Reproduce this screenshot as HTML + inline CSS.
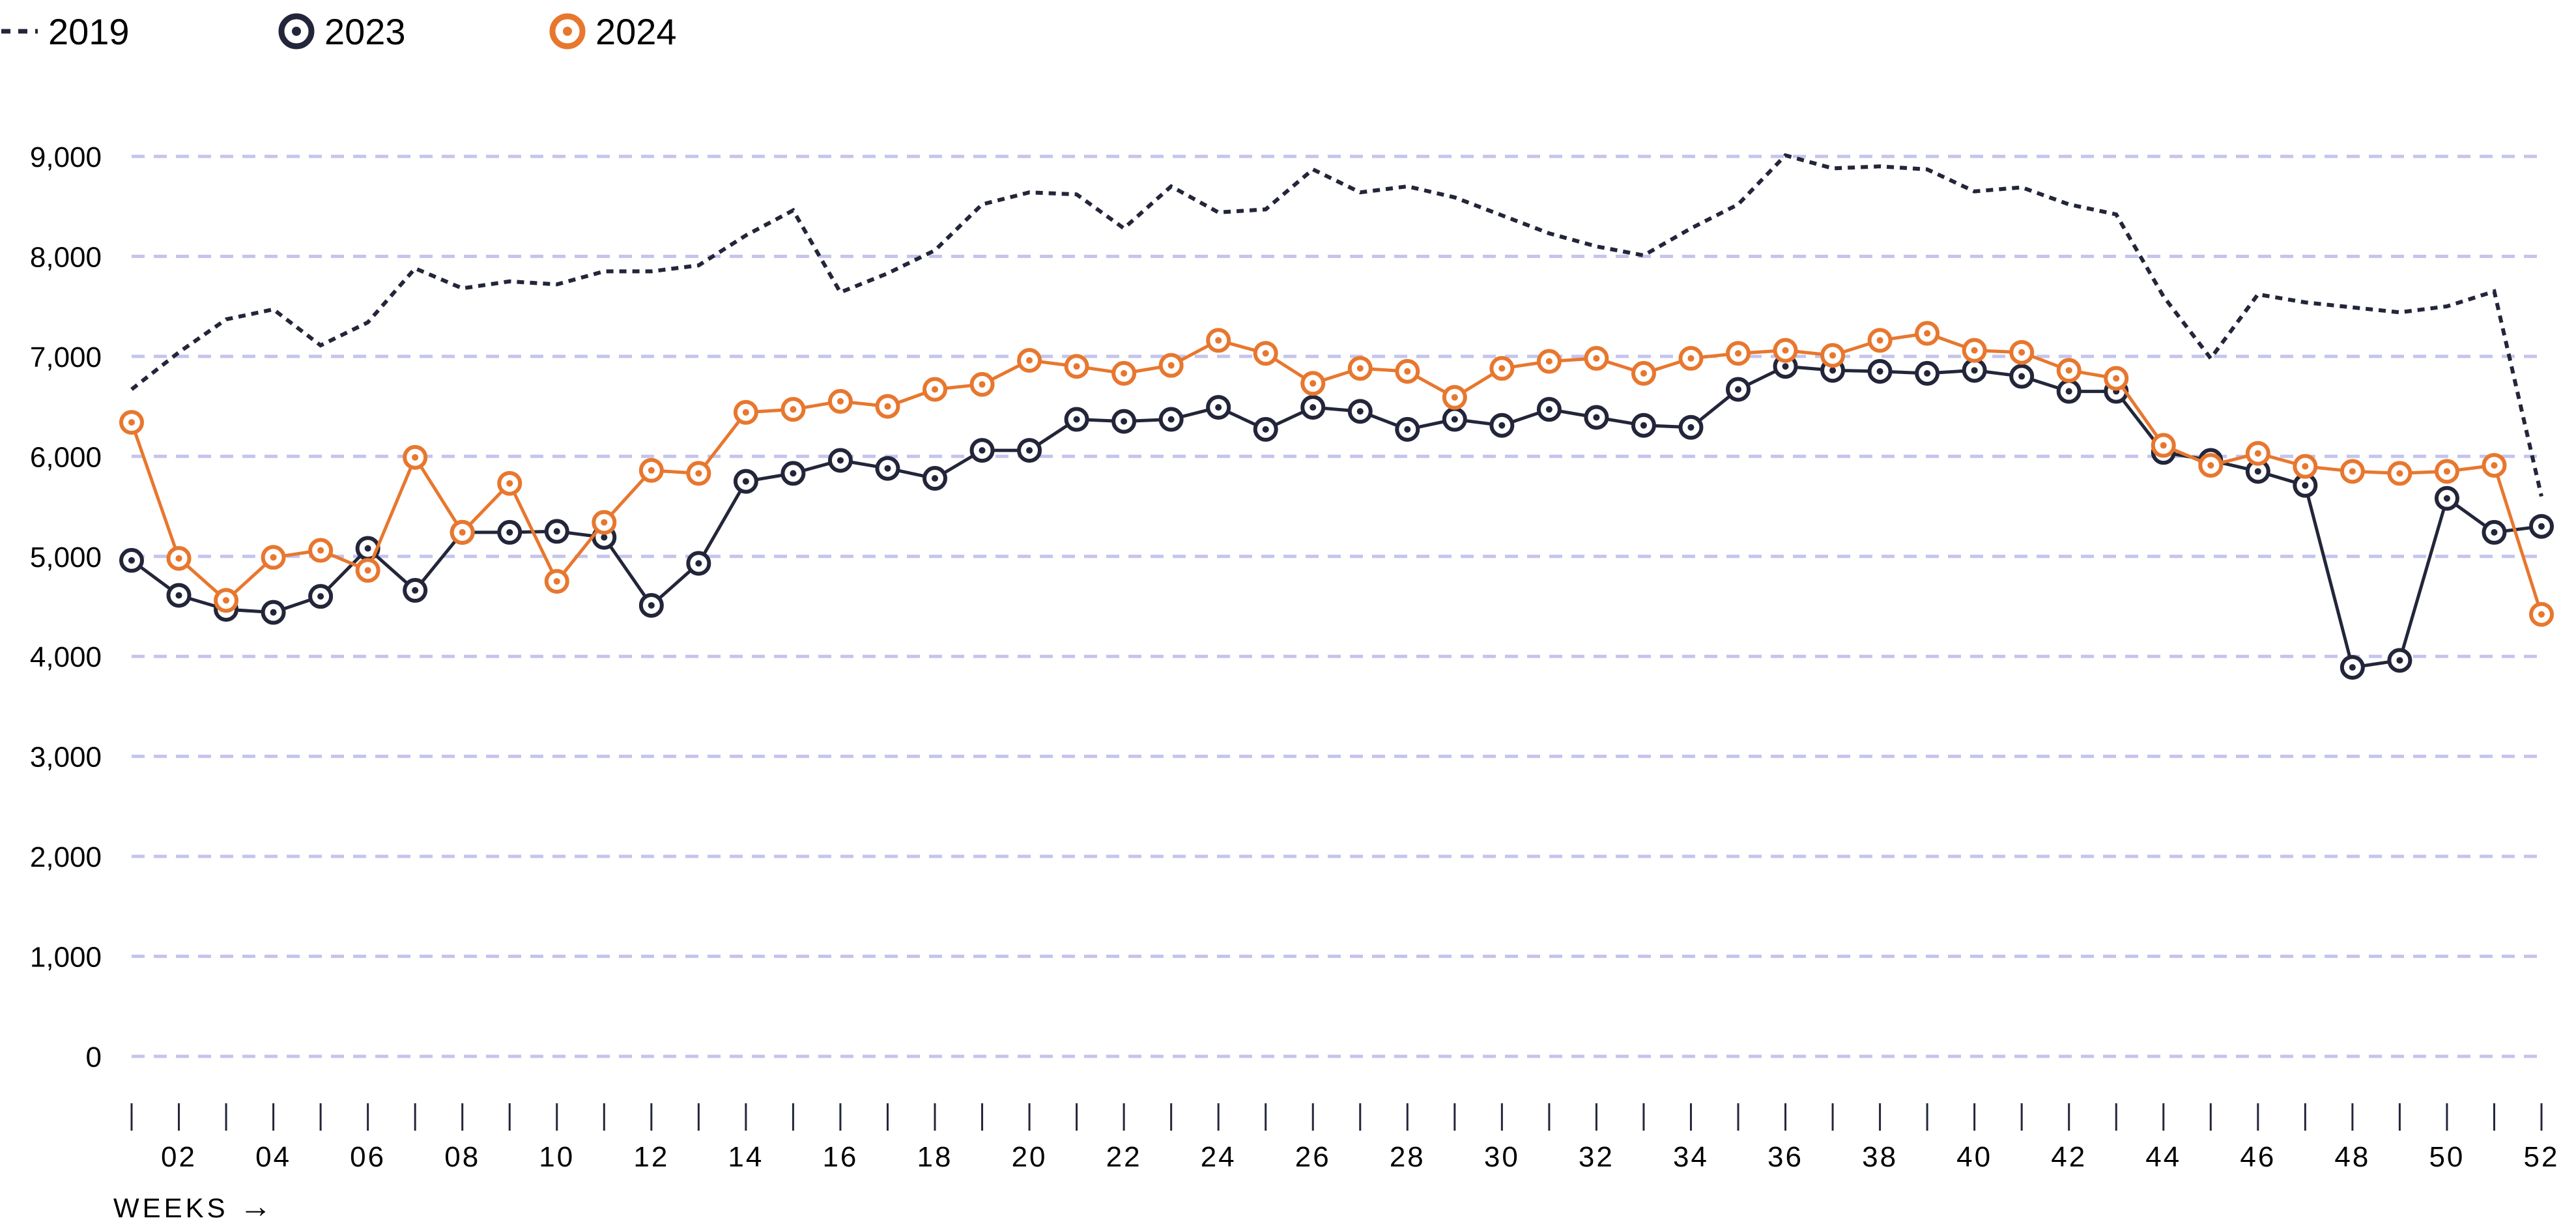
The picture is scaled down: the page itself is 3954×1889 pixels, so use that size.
<!DOCTYPE html>
<html><head><meta charset="utf-8"><style>
html,body{margin:0;padding:0;background:#fff;}
svg{display:block;font-family:"Liberation Sans",sans-serif;}
</style></head><body>
<svg id="chart" width="3954" height="1889" viewBox="0 0 3954 1889" xmlns="http://www.w3.org/2000/svg">
<g>
  <g>
    <line x1="2" y1="48" x2="58" y2="48" stroke="#23263a" stroke-width="7" stroke-dasharray="14,12"/>
    <text x="74" y="68" font-size="56" fill="#000">2019</text>
  </g>
  <g>
    <circle cx="455" cy="48" r="23" fill="#fff" stroke="#23263a" stroke-width="9"/>
    <circle cx="455" cy="48" r="7" fill="#23263a"/>
    <text x="498" y="68" font-size="56" fill="#000">2023</text>
  </g>
  <g>
    <circle cx="871" cy="48" r="23" fill="#fff" stroke="#e8772e" stroke-width="9"/>
    <circle cx="871" cy="48" r="7" fill="#e8772e"/>
    <text x="914" y="68" font-size="56" fill="#000">2024</text>
  </g>
</g>
<g id="grid"></g>
<g id="yaxis"></g>
<g id="xaxis"></g>
<g id="series"></g>
<text x="174" y="1868" font-size="42" letter-spacing="5" fill="#000">WEEKS <tspan font-size="50">→</tspan></text>
</svg>
<script>
const weeks = Array.from({length:52},(_,i)=>i+1);
const yTicks = [0,1000,2000,3000,4000,5000,6000,7000,8000,9000];
const s2019 = [6670,7040,7370,7470,7110,7340,7880,7680,7750,7720,7850,7850,7910,8210,8460,7640,7830,8060,8520,8640,8620,8280,8700,8440,8470,8870,8640,8700,8590,8410,8230,8100,8010,8280,8520,9010,8880,8900,8870,8650,8690,8520,8420,7600,6980,7620,7540,7490,7440,7500,7650,5600];
const s2023 = [4960,4610,4470,4440,4600,5080,4660,5240,5240,5250,5190,4510,4930,5750,5830,5960,5880,5780,6060,6060,6370,6350,6370,6490,6270,6490,6450,6270,6370,6310,6470,6390,6310,6290,6670,6900,6860,6850,6830,6860,6800,6650,6650,6040,5960,5850,5710,3890,3960,5580,5240,5300];
const s2024 = [6340,4980,4560,4990,5060,4860,5990,5240,5730,4750,5340,5860,5830,6440,6470,6550,6500,6670,6720,6960,6900,6830,6910,7160,7030,6730,6880,6850,6590,6880,6950,6980,6830,6980,7030,7060,7010,7160,7230,7060,7040,6860,6780,6110,5910,6030,5900,5850,5830,5850,5910,4420];

const NS="http://www.w3.org/2000/svg";
const X0=202, X1=3901, Y0=1621, YPER=153.45/1000;
const xs = w => X0 + (w-1)*(X1-X0)/51;
const ys = v => Y0 - v*YPER;
function mk(tag, attrs, parent){const e=document.createElementNS(NS,tag);for(const k in attrs)e.setAttribute(k,attrs[k]);parent.appendChild(e);return e;}
const grid=document.getElementById('grid'), ya=document.getElementById('yaxis'), xa=document.getElementById('xaxis'), ser=document.getElementById('series');
yTicks.forEach(v=>{
  const l=mk('line',{x1:X0,x2:3905,y1:ys(v),y2:ys(v),stroke:'#c4c4ee','stroke-width':5,'stroke-dasharray':'20,14'},grid);
  
  
  const t=mk('text',{x:156,y:ys(v)+16,'font-size':44,'text-anchor':'end',fill:'#000'},ya);
  t.textContent=v.toLocaleString('en-US');
  
  
});
weeks.forEach(w=>{
  const l=mk('line',{x1:xs(w),x2:xs(w),y1:1693,y2:1735,stroke:'#23263a','stroke-width':3},xa);
  
  
  if(w%2===0){
    const t=mk('text',{x:xs(w),y:1790,'font-size':44,'text-anchor':'middle',fill:'#000','letter-spacing':3},xa);
    t.textContent=String(w).padStart(2,'0');
    
    
  }
});
function path(arr){return arr.map((v,i)=>(i?'L':'M')+xs(weeks[i]).toFixed(1)+','+ys(v).toFixed(1)).join(' ');}
const p19=mk('path',{d:path(s2019),fill:'none',stroke:'#23263a','stroke-width':6,'stroke-dasharray':'11,9'},ser);


function drawSeries(arr,color,name){
  const p=mk('path',{d:path(arr),fill:'none',stroke:color,'stroke-width':5,'stroke-linejoin':'round'},ser);
  
  
  arr.forEach((v,i)=>{
    const g=mk('g',{},ser);
    
    
    mk('circle',{cx:xs(weeks[i]),cy:ys(v),r:16,fill:'#fff',stroke:color,'stroke-width':6},g);
    mk('circle',{cx:xs(weeks[i]),cy:ys(v),r:5,fill:color},g);
  });
}
drawSeries(s2023,'#23263a','2023');
drawSeries(s2024,'#e8772e','2024');
</script>
</body></html>
